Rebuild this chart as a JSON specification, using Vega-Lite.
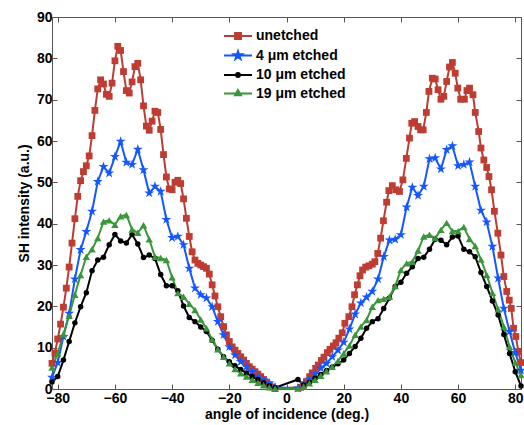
{
"$schema":"https://vega.github.io/schema/vega-lite/v6.json",
"width":469,"height":372,"autosize":"none",
"padding":{"left":52,"top":17,"right":3,"bottom":36},
"config":{"font":"Liberation Sans","view":{"stroke":null},
"axis":{"labelFont":"Liberation Sans","labelFontSize":14,"labelFontWeight":"bold","labelColor":"#000","titleFont":"Liberation Sans","titleFontSize":14,"titleFontWeight":"bold","titleColor":"#000","domainColor":"#555","tickColor":"#555","grid":false,"tickSize":-5,"labelFlush":false,"labelOverlap":false}},
"datasets":{"d":[
{"a":-82,"v":6.2,"s":"unetched"},{"a":-81,"v":8.7,"s":"unetched"},{"a":-80,"v":12.1,"s":"unetched"},{"a":-79,"v":15.7,"s":"unetched"},{"a":-78,"v":19.8,"s":"unetched"},{"a":-77,"v":24.4,"s":"unetched"},{"a":-76,"v":29.5,"s":"unetched"},{"a":-75,"v":35.3,"s":"unetched"},{"a":-74,"v":41.2,"s":"unetched"},{"a":-73,"v":46.6,"s":"unetched"},{"a":-72,"v":50.4,"s":"unetched"},{"a":-71,"v":52.6,"s":"unetched"},{"a":-70,"v":54,"s":"unetched"},{"a":-69,"v":56.4,"s":"unetched"},{"a":-68,"v":61.3,"s":"unetched"},{"a":-67,"v":67.4,"s":"unetched"},{"a":-66,"v":72.6,"s":"unetched"},{"a":-65,"v":74.8,"s":"unetched"},{"a":-64,"v":73.8,"s":"unetched"},{"a":-63,"v":71.3,"s":"unetched"},{"a":-62,"v":70.8,"s":"unetched"},{"a":-61,"v":74,"s":"unetched"},{"a":-60,"v":79.4,"s":"unetched"},{"a":-59,"v":82.9,"s":"unetched"},{"a":-58,"v":81.9,"s":"unetched"},{"a":-57,"v":76.8,"s":"unetched"},{"a":-56,"v":72.2,"s":"unetched"},{"a":-55,"v":71.6,"s":"unetched"},{"a":-54,"v":74.3,"s":"unetched"},{"a":-53,"v":78,"s":"unetched"},{"a":-52,"v":78.8,"s":"unetched"},{"a":-51,"v":74.8,"s":"unetched"},{"a":-50,"v":68.5,"s":"unetched"},{"a":-49,"v":63.6,"s":"unetched"},{"a":-48,"v":62.6,"s":"unetched"},{"a":-47,"v":64.8,"s":"unetched"},{"a":-46,"v":67.2,"s":"unetched"},{"a":-45,"v":66.9,"s":"unetched"},{"a":-44,"v":62.8,"s":"unetched"},{"a":-43,"v":56.7,"s":"unetched"},{"a":-42,"v":51.3,"s":"unetched"},{"a":-41,"v":48.4,"s":"unetched"},{"a":-40,"v":48.2,"s":"unetched"},{"a":-39,"v":50,"s":"unetched"},{"a":-38,"v":50.5,"s":"unetched"},{"a":-37,"v":49.7,"s":"unetched"},{"a":-36,"v":46,"s":"unetched"},{"a":-35,"v":41.3,"s":"unetched"},{"a":-34,"v":36.9,"s":"unetched"},{"a":-33,"v":33.2,"s":"unetched"},{"a":-32,"v":31.2,"s":"unetched"},{"a":-31,"v":30.4,"s":"unetched"},{"a":-30,"v":30,"s":"unetched"},{"a":-29,"v":29.6,"s":"unetched"},{"a":-28,"v":29.2,"s":"unetched"},{"a":-27,"v":27.8,"s":"unetched"},{"a":-26,"v":25.2,"s":"unetched"},{"a":-25,"v":22.5,"s":"unetched"},{"a":-24,"v":19.9,"s":"unetched"},{"a":-23,"v":17.5,"s":"unetched"},{"a":-22,"v":15.1,"s":"unetched"},{"a":-21,"v":13.1,"s":"unetched"},{"a":-20,"v":11.5,"s":"unetched"},{"a":-19,"v":10.2,"s":"unetched"},{"a":-18,"v":9.4,"s":"unetched"},{"a":-17,"v":8.6,"s":"unetched"},{"a":-16,"v":7.8,"s":"unetched"},{"a":-15,"v":7,"s":"unetched"},{"a":-14,"v":6.2,"s":"unetched"},{"a":-13,"v":5.4,"s":"unetched"},{"a":-12,"v":4.8,"s":"unetched"},{"a":-11,"v":4.2,"s":"unetched"},{"a":-10,"v":3.6,"s":"unetched"},{"a":-9,"v":3,"s":"unetched"},{"a":-8,"v":2.3,"s":"unetched"},{"a":-7,"v":1.6,"s":"unetched"},{"a":-6,"v":1,"s":"unetched"},{"a":-5,"v":0.5,"s":"unetched"},{"a":-4,"v":0.1,"s":"unetched"},
{"a":5,"v":0.4,"s":"unetched"},{"a":6,"v":1,"s":"unetched"},{"a":7,"v":1.8,"s":"unetched"},{"a":8.1,"v":3,"s":"unetched"},{"a":9,"v":3.9,"s":"unetched"},{"a":10.2,"v":5,"s":"unetched"},{"a":11.1,"v":5.8,"s":"unetched"},{"a":12.2,"v":6.9,"s":"unetched"},{"a":13.1,"v":7.7,"s":"unetched"},{"a":14.3,"v":8.8,"s":"unetched"},{"a":15.2,"v":9.6,"s":"unetched"},{"a":16.4,"v":10.4,"s":"unetched"},{"a":17.3,"v":11.2,"s":"unetched"},{"a":18.3,"v":12.3,"s":"unetched"},{"a":19.5,"v":13.6,"s":"unetched"},{"a":20.4,"v":15.9,"s":"unetched"},{"a":21.8,"v":17.5,"s":"unetched"},{"a":22.9,"v":19.9,"s":"unetched"},{"a":23.8,"v":22.8,"s":"unetched"},{"a":24.8,"v":25.2,"s":"unetched"},{"a":25.7,"v":27.4,"s":"unetched"},{"a":26.6,"v":28.8,"s":"unetched"},{"a":27.7,"v":29.5,"s":"unetched"},{"a":28.8,"v":29.8,"s":"unetched"},{"a":30,"v":30.2,"s":"unetched"},{"a":30.9,"v":30.8,"s":"unetched"},{"a":31.9,"v":32.8,"s":"unetched"},{"a":32.9,"v":36.5,"s":"unetched"},{"a":33.9,"v":40.7,"s":"unetched"},{"a":35,"v":45.2,"s":"unetched"},{"a":35.8,"v":48,"s":"unetched"},{"a":37,"v":49.2,"s":"unetched"},{"a":38.2,"v":48.2,"s":"unetched"},{"a":39.5,"v":47.8,"s":"unetched"},{"a":40.7,"v":50.6,"s":"unetched"},{"a":41.9,"v":55.8,"s":"unetched"},{"a":43,"v":60.7,"s":"unetched"},{"a":43.8,"v":64.3,"s":"unetched"},{"a":44.8,"v":64.7,"s":"unetched"},{"a":46,"v":63.5,"s":"unetched"},{"a":46.9,"v":62.7,"s":"unetched"},{"a":47.8,"v":62.7,"s":"unetched"},{"a":48.9,"v":66.9,"s":"unetched"},{"a":49.8,"v":72,"s":"unetched"},{"a":51,"v":75.2,"s":"unetched"},{"a":52,"v":75,"s":"unetched"},{"a":53,"v":72.4,"s":"unetched"},{"a":54,"v":70.1,"s":"unetched"},{"a":55,"v":70.8,"s":"unetched"},{"a":56,"v":74.4,"s":"unetched"},{"a":57,"v":77.9,"s":"unetched"},{"a":58,"v":79,"s":"unetched"},{"a":59,"v":76.4,"s":"unetched"},{"a":59.9,"v":72.8,"s":"unetched"},{"a":60.9,"v":70.1,"s":"unetched"},{"a":62.2,"v":70.1,"s":"unetched"},{"a":63.1,"v":72.2,"s":"unetched"},{"a":64,"v":72.8,"s":"unetched"},{"a":65.2,"v":71.2,"s":"unetched"},{"a":66,"v":66.9,"s":"unetched"},{"a":67.2,"v":62.3,"s":"unetched"},{"a":68,"v":58.3,"s":"unetched"},{"a":69,"v":55.4,"s":"unetched"},{"a":70,"v":53.6,"s":"unetched"},{"a":70.8,"v":51.4,"s":"unetched"},{"a":71.7,"v":48.2,"s":"unetched"},{"a":72.7,"v":43,"s":"unetched"},{"a":73.9,"v":37.7,"s":"unetched"},{"a":75,"v":32.4,"s":"unetched"},{"a":76,"v":27.2,"s":"unetched"},{"a":77,"v":23.6,"s":"unetched"},{"a":77.9,"v":21.5,"s":"unetched"},{"a":78.6,"v":19.5,"s":"unetched"},{"a":79.4,"v":14.7,"s":"unetched"},{"a":80.2,"v":12.7,"s":"unetched"},{"a":81.1,"v":9,"s":"unetched"},{"a":82,"v":6.4,"s":"unetched"},
{"a":-82,"v":2.8,"s":"4 μm etched"},{"a":-80,"v":6.4,"s":"4 μm etched"},{"a":-78,"v":12.7,"s":"4 μm etched"},{"a":-76,"v":18.3,"s":"4 μm etched"},{"a":-74,"v":26.6,"s":"4 μm etched"},{"a":-72,"v":33.7,"s":"4 μm etched"},{"a":-70,"v":38.1,"s":"4 μm etched"},{"a":-68,"v":43,"s":"4 μm etched"},{"a":-66,"v":50.2,"s":"4 μm etched"},{"a":-64,"v":53.8,"s":"4 μm etched"},{"a":-62,"v":52.2,"s":"4 μm etched"},{"a":-60,"v":56.2,"s":"4 μm etched"},{"a":-58,"v":59.9,"s":"4 μm etched"},{"a":-56,"v":54.8,"s":"4 μm etched"},{"a":-54,"v":54.3,"s":"4 μm etched"},{"a":-52,"v":58,"s":"4 μm etched"},{"a":-50,"v":53,"s":"4 μm etched"},{"a":-48,"v":47.4,"s":"4 μm etched"},{"a":-46,"v":49,"s":"4 μm etched"},{"a":-44,"v":47.8,"s":"4 μm etched"},{"a":-42,"v":41,"s":"4 μm etched"},{"a":-40,"v":36.6,"s":"4 μm etched"},{"a":-38,"v":36.9,"s":"4 μm etched"},{"a":-36,"v":34.9,"s":"4 μm etched"},{"a":-34,"v":29.2,"s":"4 μm etched"},{"a":-32,"v":24.4,"s":"4 μm etched"},{"a":-30,"v":22.8,"s":"4 μm etched"},{"a":-28,"v":22,"s":"4 μm etched"},{"a":-26,"v":19.9,"s":"4 μm etched"},{"a":-24,"v":16.3,"s":"4 μm etched"},{"a":-22,"v":13.1,"s":"4 μm etched"},{"a":-20,"v":10.2,"s":"4 μm etched"},{"a":-18,"v":8.2,"s":"4 μm etched"},{"a":-16,"v":6.6,"s":"4 μm etched"},{"a":-14,"v":5.4,"s":"4 μm etched"},{"a":-12,"v":4.2,"s":"4 μm etched"},{"a":-10,"v":3,"s":"4 μm etched"},{"a":-8,"v":2.2,"s":"4 μm etched"},{"a":-6,"v":1.4,"s":"4 μm etched"},{"a":-4,"v":0.4,"s":"4 μm etched"},
{"a":4,"v":0.2,"s":"4 μm etched"},{"a":6,"v":1.2,"s":"4 μm etched"},{"a":8,"v":2.3,"s":"4 μm etched"},{"a":10,"v":3.6,"s":"4 μm etched"},{"a":12,"v":5,"s":"4 μm etched"},{"a":14,"v":6.2,"s":"4 μm etched"},{"a":16,"v":7.8,"s":"4 μm etched"},{"a":18,"v":9.4,"s":"4 μm etched"},{"a":20,"v":11.3,"s":"4 μm etched"},{"a":22,"v":14.5,"s":"4 μm etched"},{"a":24,"v":18.1,"s":"4 μm etched"},{"a":26,"v":20.8,"s":"4 μm etched"},{"a":28,"v":22.2,"s":"4 μm etched"},{"a":30,"v":23.6,"s":"4 μm etched"},{"a":32,"v":26.6,"s":"4 μm etched"},{"a":34,"v":32,"s":"4 μm etched"},{"a":36,"v":36,"s":"4 μm etched"},{"a":38,"v":36.2,"s":"4 μm etched"},{"a":40,"v":37.3,"s":"4 μm etched"},{"a":42,"v":44,"s":"4 μm etched"},{"a":44,"v":48.8,"s":"4 μm etched"},{"a":46,"v":46.8,"s":"4 μm etched"},{"a":48,"v":49,"s":"4 μm etched"},{"a":50,"v":55.7,"s":"4 μm etched"},{"a":52,"v":55.9,"s":"4 μm etched"},{"a":54,"v":53.2,"s":"4 μm etched"},{"a":56,"v":57.9,"s":"4 μm etched"},{"a":58,"v":58.8,"s":"4 μm etched"},{"a":60,"v":54,"s":"4 μm etched"},{"a":62,"v":54.3,"s":"4 μm etched"},{"a":64,"v":54.9,"s":"4 μm etched"},{"a":66,"v":49,"s":"4 μm etched"},{"a":68,"v":43.2,"s":"4 μm etched"},{"a":70,"v":40.4,"s":"4 μm etched"},{"a":72,"v":34.5,"s":"4 μm etched"},{"a":74,"v":26.8,"s":"4 μm etched"},{"a":76,"v":19.5,"s":"4 μm etched"},{"a":78,"v":13.9,"s":"4 μm etched"},{"a":80,"v":8.8,"s":"4 μm etched"},{"a":82,"v":4.5,"s":"4 μm etched"},
{"a":-82,"v":1.7,"s":"10 μm etched"},{"a":-80,"v":3,"s":"10 μm etched"},{"a":-78,"v":7,"s":"10 μm etched"},{"a":-76,"v":11.5,"s":"10 μm etched"},{"a":-74,"v":16,"s":"10 μm etched"},{"a":-72,"v":19.9,"s":"10 μm etched"},{"a":-70,"v":23.3,"s":"10 μm etched"},{"a":-68,"v":28.6,"s":"10 μm etched"},{"a":-66,"v":31.2,"s":"10 μm etched"},{"a":-64,"v":31.9,"s":"10 μm etched"},{"a":-62,"v":34.9,"s":"10 μm etched"},{"a":-60,"v":37.4,"s":"10 μm etched"},{"a":-58,"v":35.8,"s":"10 μm etched"},{"a":-56,"v":35.3,"s":"10 μm etched"},{"a":-54,"v":37.4,"s":"10 μm etched"},{"a":-52,"v":35.1,"s":"10 μm etched"},{"a":-50,"v":31.8,"s":"10 μm etched"},{"a":-48,"v":32.4,"s":"10 μm etched"},{"a":-46,"v":31.6,"s":"10 μm etched"},{"a":-44,"v":27.7,"s":"10 μm etched"},{"a":-42,"v":25,"s":"10 μm etched"},{"a":-40,"v":25,"s":"10 μm etched"},{"a":-38,"v":23.8,"s":"10 μm etched"},{"a":-36,"v":20.1,"s":"10 μm etched"},{"a":-34,"v":17.3,"s":"10 μm etched"},{"a":-32,"v":16.3,"s":"10 μm etched"},{"a":-30,"v":15,"s":"10 μm etched"},{"a":-28,"v":13.9,"s":"10 μm etched"},{"a":-26,"v":11.8,"s":"10 μm etched"},{"a":-24,"v":9.6,"s":"10 μm etched"},{"a":-22,"v":7.8,"s":"10 μm etched"},{"a":-20,"v":6.6,"s":"10 μm etched"},{"a":-18,"v":5.6,"s":"10 μm etched"},{"a":-16,"v":4.7,"s":"10 μm etched"},{"a":-14,"v":3.9,"s":"10 μm etched"},{"a":-12,"v":3,"s":"10 μm etched"},{"a":-10,"v":2.3,"s":"10 μm etched"},{"a":-8,"v":1.5,"s":"10 μm etched"},{"a":-6,"v":0.8,"s":"10 μm etched"},{"a":-4,"v":0.3,"s":"10 μm etched"},
{"a":4,"v":2.3,"s":"10 μm etched"},{"a":6,"v":1,"s":"10 μm etched"},{"a":8,"v":1.6,"s":"10 μm etched"},{"a":10,"v":2.6,"s":"10 μm etched"},{"a":12,"v":3.5,"s":"10 μm etched"},{"a":14,"v":4.5,"s":"10 μm etched"},{"a":16,"v":5.3,"s":"10 μm etched"},{"a":18,"v":6.1,"s":"10 μm etched"},{"a":20,"v":7,"s":"10 μm etched"},{"a":22,"v":8.6,"s":"10 μm etched"},{"a":24,"v":10.3,"s":"10 μm etched"},{"a":26,"v":12.3,"s":"10 μm etched"},{"a":28,"v":14.7,"s":"10 μm etched"},{"a":30,"v":16.3,"s":"10 μm etched"},{"a":32,"v":17,"s":"10 μm etched"},{"a":34,"v":19.5,"s":"10 μm etched"},{"a":36,"v":22,"s":"10 μm etched"},{"a":38,"v":24.8,"s":"10 μm etched"},{"a":40,"v":25.8,"s":"10 μm etched"},{"a":42,"v":28,"s":"10 μm etched"},{"a":44,"v":29.6,"s":"10 μm etched"},{"a":46,"v":31.6,"s":"10 μm etched"},{"a":48,"v":31.9,"s":"10 μm etched"},{"a":50,"v":33.8,"s":"10 μm etched"},{"a":52,"v":36.2,"s":"10 μm etched"},{"a":54,"v":36,"s":"10 μm etched"},{"a":56,"v":34.9,"s":"10 μm etched"},{"a":58,"v":36.8,"s":"10 μm etched"},{"a":60,"v":37,"s":"10 μm etched"},{"a":62,"v":33.8,"s":"10 μm etched"},{"a":64,"v":33.2,"s":"10 μm etched"},{"a":66,"v":32,"s":"10 μm etched"},{"a":68,"v":28.2,"s":"10 μm etched"},{"a":70,"v":24.8,"s":"10 μm etched"},{"a":72,"v":21.3,"s":"10 μm etched"},{"a":74,"v":17.9,"s":"10 μm etched"},{"a":76,"v":13.2,"s":"10 μm etched"},{"a":78,"v":8.6,"s":"10 μm etched"},{"a":80,"v":4.2,"s":"10 μm etched"},{"a":82,"v":0.7,"s":"10 μm etched"},
{"a":-82,"v":5.2,"s":"19 μm etched"},{"a":-80,"v":8.6,"s":"19 μm etched"},{"a":-78,"v":13.3,"s":"19 μm etched"},{"a":-76,"v":17.7,"s":"19 μm etched"},{"a":-74,"v":22.8,"s":"19 μm etched"},{"a":-72,"v":27.6,"s":"19 μm etched"},{"a":-70,"v":32,"s":"19 μm etched"},{"a":-68,"v":33.8,"s":"19 μm etched"},{"a":-66,"v":36.5,"s":"19 μm etched"},{"a":-64,"v":40.5,"s":"19 μm etched"},{"a":-62,"v":40.8,"s":"19 μm etched"},{"a":-60,"v":39.7,"s":"19 μm etched"},{"a":-58,"v":41.8,"s":"19 μm etched"},{"a":-56,"v":42.1,"s":"19 μm etched"},{"a":-54,"v":38.6,"s":"19 μm etched"},{"a":-52,"v":37.8,"s":"19 μm etched"},{"a":-50,"v":39.6,"s":"19 μm etched"},{"a":-48,"v":36.2,"s":"19 μm etched"},{"a":-46,"v":32,"s":"19 μm etched"},{"a":-44,"v":31.7,"s":"19 μm etched"},{"a":-42,"v":31.2,"s":"19 μm etched"},{"a":-40,"v":27,"s":"19 μm etched"},{"a":-38,"v":23.2,"s":"19 μm etched"},{"a":-36,"v":22.3,"s":"19 μm etched"},{"a":-34,"v":20.6,"s":"19 μm etched"},{"a":-32,"v":19.1,"s":"19 μm etched"},{"a":-30,"v":16.8,"s":"19 μm etched"},{"a":-28,"v":14.7,"s":"19 μm etched"},{"a":-26,"v":12,"s":"19 μm etched"},{"a":-24,"v":9.6,"s":"19 μm etched"},{"a":-22,"v":7.8,"s":"19 μm etched"},{"a":-20,"v":6.2,"s":"19 μm etched"},{"a":-18,"v":4.8,"s":"19 μm etched"},{"a":-16,"v":3.8,"s":"19 μm etched"},{"a":-14,"v":3,"s":"19 μm etched"},{"a":-12,"v":2.2,"s":"19 μm etched"},{"a":-10,"v":1.5,"s":"19 μm etched"},{"a":-8,"v":0.9,"s":"19 μm etched"},{"a":-6,"v":0.4,"s":"19 μm etched"},{"a":-4,"v":0.1,"s":"19 μm etched"},
{"a":4,"v":0.1,"s":"19 μm etched"},{"a":6,"v":0.6,"s":"19 μm etched"},{"a":8,"v":1.4,"s":"19 μm etched"},{"a":10,"v":2.2,"s":"19 μm etched"},{"a":12,"v":3.2,"s":"19 μm etched"},{"a":14,"v":4.3,"s":"19 μm etched"},{"a":16,"v":5.4,"s":"19 μm etched"},{"a":18,"v":6.8,"s":"19 μm etched"},{"a":20,"v":8.6,"s":"19 μm etched"},{"a":22,"v":10.5,"s":"19 μm etched"},{"a":24,"v":13.1,"s":"19 μm etched"},{"a":26,"v":15.1,"s":"19 μm etched"},{"a":28,"v":16.7,"s":"19 μm etched"},{"a":30,"v":19.9,"s":"19 μm etched"},{"a":32,"v":21.5,"s":"19 μm etched"},{"a":34,"v":21.8,"s":"19 μm etched"},{"a":36,"v":22.3,"s":"19 μm etched"},{"a":38,"v":24.9,"s":"19 μm etched"},{"a":40,"v":28.8,"s":"19 μm etched"},{"a":42,"v":30.4,"s":"19 μm etched"},{"a":44,"v":30.8,"s":"19 μm etched"},{"a":46,"v":33.5,"s":"19 μm etched"},{"a":48,"v":36.9,"s":"19 μm etched"},{"a":50,"v":37.3,"s":"19 μm etched"},{"a":52,"v":36.5,"s":"19 μm etched"},{"a":54,"v":38.5,"s":"19 μm etched"},{"a":56,"v":40.2,"s":"19 μm etched"},{"a":58,"v":38.2,"s":"19 μm etched"},{"a":60,"v":38.2,"s":"19 μm etched"},{"a":62,"v":39.2,"s":"19 μm etched"},{"a":64,"v":36.3,"s":"19 μm etched"},{"a":66,"v":34.6,"s":"19 μm etched"},{"a":68,"v":31.3,"s":"19 μm etched"},{"a":70,"v":27.6,"s":"19 μm etched"},{"a":72,"v":23.3,"s":"19 μm etched"},{"a":74,"v":19.3,"s":"19 μm etched"},{"a":76,"v":15.1,"s":"19 μm etched"},{"a":78,"v":10.2,"s":"19 μm etched"},{"a":80,"v":6.4,"s":"19 μm etched"},{"a":82,"v":3.4,"s":"19 μm etched"}
]},
"data":{"name":"d"},
"layer":[
{"mark":{"type":"line","strokeWidth":2},
 "encoding":{
  "x":{"field":"a","type":"quantitative","scale":{"domain":[-82,82],"nice":false,"zero":false},
       "axis":{"orient":"bottom","values":[-80,-60,-40,-20,0,20,40,60,80],"title":"angle of incidence (deg.)","labelPadding":7,"titlePadding":2}},
  "y":{"field":"v","type":"quantitative","scale":{"domain":[0,90],"nice":false},
       "axis":{"orient":"left","values":[0,10,20,30,40,50,60,70,80,90],"title":"SH intensity (a.u.)","labelPadding":5,"titlePadding":5}},
  "color":{"field":"s","type":"nominal","scale":{"domain":["unetched","4 μm etched","10 μm etched","19 μm etched"],"range":["#BE3C32","#1457FF","#000000","#3A963A"]},"legend":null},
  "detail":{"field":"s"}
 }},
{"mark":{"type":"point","filled":true,"opacity":1},
 "encoding":{
  "x":{"field":"a","type":"quantitative","axis":{"orient":"top","values":[-80,-60,-40,-20,0,20,40,60,80],"labels":false,"title":null}},
  "y":{"field":"v","type":"quantitative","axis":{"orient":"right","values":[0,10,20,30,40,50,60,70,80,90],"labels":false,"title":null}},
  "color":{"field":"s","type":"nominal","legend":null},
  "shape":{"field":"s","type":"nominal","scale":{"domain":["unetched","4 μm etched","10 μm etched","19 μm etched"],"range":["square","M0,-1L0.2245,-0.309L0.951,-0.309L0.3633,0.118L0.5878,0.809L0,0.382L-0.5878,0.809L-0.3633,0.118L-0.951,-0.309L-0.2245,-0.309Z","circle","triangle-up"]},"legend":null},
  "size":{"field":"s","type":"nominal","scale":{"type":"ordinal","domain":["unetched","4 μm etched","10 μm etched","19 μm etched"],"range":[46,110,30,55]},"legend":null}
 }},
{"transform":[{"filter":"datum.v < -1"}],
 "mark":{"type":"point","filled":true,"opacity":1,"strokeWidth":2},
 "encoding":{
  "x":{"field":"a","type":"quantitative","axis":null},
  "y":{"field":"v","type":"quantitative","axis":null},
  "fill":{"field":"s","type":"nominal","scale":{"domain":["unetched","4 μm etched","10 μm etched","19 μm etched"],"range":["#BE3C32","#1457FF","#000000","#3A963A"]}},
  "stroke":{"field":"s","type":"nominal","scale":{"domain":["unetched","4 μm etched","10 μm etched","19 μm etched"],"range":["#BE3C32","#1457FF","#000000","#3A963A"]}},
  "shape":{"field":"s","type":"nominal","scale":{"domain":["unetched","4 μm etched","10 μm etched","19 μm etched"],"range":[
   "M-2,0L2,0M-0.42,-0.42L0.42,-0.42L0.42,0.42L-0.42,0.42Z",
   "M-2,0L2,0M0,-0.6L0.134,-0.185L0.571,-0.185L0.218,0.071L0.353,0.485L0,0.229L-0.353,0.485L-0.218,0.071L-0.571,-0.185L-0.134,-0.185Z",
   "M-2,0L2,0M0.27,0A0.27,0.27,0,1,1,-0.27,0A0.27,0.27,0,1,1,0.27,0",
   "M-2,0L2,0M0,-0.48L0.42,0.26L-0.42,0.26Z"]},
   "legend":{"orient":"none","legendX":178,"legendY":11,"title":null,"padding":0,"labelFont":"Liberation Sans","labelFontSize":14,"labelFontWeight":"bold","labelColor":"#000","symbolSize":196,"symbolStrokeWidth":2,"rowPadding":3.5,"labelOffset":10}}
 }}
],
"resolve":{"scale":{"shape":"independent","size":"independent","fill":"independent","stroke":"independent"},"axis":{"x":"independent","y":"independent"},"legend":{"shape":"independent","fill":"independent","stroke":"independent"}}
}
